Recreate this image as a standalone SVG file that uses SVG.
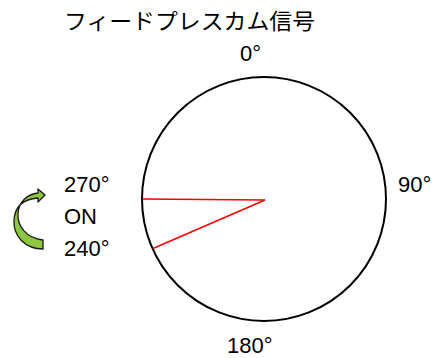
<svg xmlns="http://www.w3.org/2000/svg" width="434" height="358" viewBox="0 0 434 358">
<style>
.t{font-family:"Liberation Sans","Noto Sans CJK JP",sans-serif;font-size:22px;fill:#000}
.r{stroke:#ff0000;stroke-width:1.6;fill:none}
</style>
<rect width="434" height="358" fill="#fff"/>
<g id="title"><text class="t" x="64" y="29" textLength="251" lengthAdjust="spacingAndGlyphs">フィードプレスカム信号</text></g>
<g id="dial">
<circle cx="264" cy="199" r="122" fill="none" stroke="#000" stroke-width="2"/>
</g>
<g id="labels">
<text class="t" x="240" y="61">0°</text>
<text class="t" x="398" y="192">90°</text>
<text class="t" x="227" y="353">180°</text>
<text class="t" x="64" y="192">270°</text>
<text class="t" x="64" y="224">ON</text>
<text class="t" x="64" y="256">240°</text>
</g>
<g id="connectors">
<line class="r" x1="265" y1="200" x2="142.5" y2="199"/>
<line class="r" x1="265" y1="200" x2="153" y2="248.5"/>
</g>
<g id="arrow">
<path d="M43,240 L43,249 C25,249 13,236 14,220 C15,205 25,199 38,198 L38,202 L45,195 L38,189 L38,193 C27,194 19,202 18,213 C17,226 26,238 43,240 Z" fill="#8dc63f" stroke="#1a1a1a" stroke-width="1.3" stroke-linejoin="round"/>
</g>
</svg>
